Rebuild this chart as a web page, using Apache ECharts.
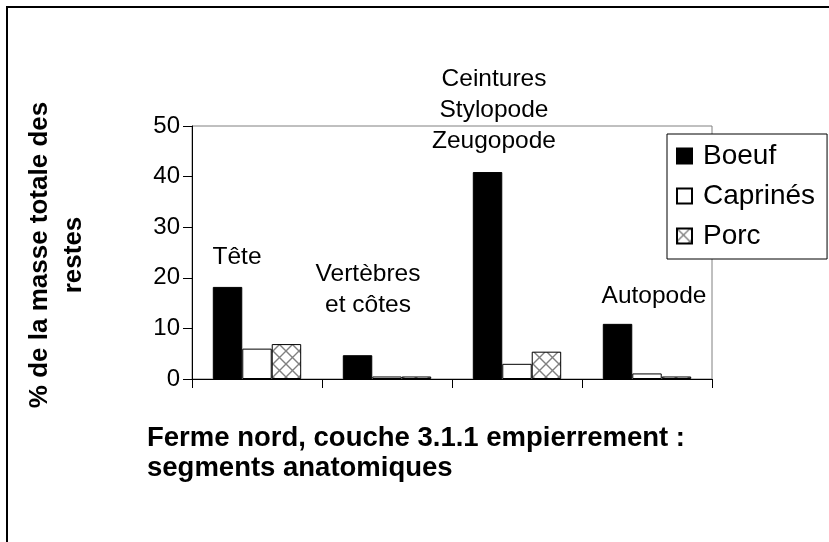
<!DOCTYPE html>
<html>
<head>
<meta charset="utf-8">
<script src="https://cdn.jsdelivr.net/npm/echarts@6/dist/echarts.min.js"></script>
<style>
  html, body { margin: 0; padding: 0; background: #fff; }
  #chart { width: 829px; height: 542px; }
</style>
</head>
<body>
<div id="chart"></div>
<script>
// Segments anatomiques (catégories) et masses en % par espèce
const segments = ['Tête', 'Vertèbres\net côtes', 'Ceintures\nStylopode\nZeugopode', 'Autopode'];
const especes = ['Boeuf', 'Caprinés', 'Porc'];
const boeuf = [18.2, 4.7, 40.9, 10.9];
const caprines = [6.0, 0.5, 3.0, 1.1];
const porc = [6.9, 0.5, 5.4, 0.5];
const yTicks = [0, 10, 20, 30, 40, 50];

const FONT = "Arial, 'Liberation Sans', sans-serif";

// Hachure croisée pour la série Porc
function crossHatch() {
  const c = document.createElement('canvas');
  c.width = 13; c.height = 13;
  const g = c.getContext('2d');
  g.fillStyle = '#fff';
  g.fillRect(0, 0, 13, 13);
  g.strokeStyle = '#808080';
  g.lineWidth = 1.4;
  g.beginPath();
  g.moveTo(0, 0); g.lineTo(13, 13);
  g.moveTo(13, 0); g.lineTo(0, 13);
  g.stroke();
  return c;
}

const chart = echarts.init(document.getElementById('chart'), null, { renderer: 'canvas' });

const option = {
  backgroundColor: '#fff',
  animation: false,
  textStyle: { fontFamily: FONT },
  grid: {
    left: 192, top: 126, right: 117, bottom: 163,
    show: true, borderColor: '#808080', borderWidth: 1, backgroundColor: 'transparent'
  },
  legend: {
    orient: 'vertical',
    left: 667, top: 134,
    data: especes,
    selectedMode: false,
    icon: 'rect',
    itemWidth: 15, itemHeight: 15,
    itemGap: 12,
    padding: [8, 12, 9, 9],
    borderColor: '#000', borderWidth: 1,
    backgroundColor: '#fff',
    textStyle: { fontSize: 28, color: '#000', fontFamily: FONT, padding: [0, 0, 0, 6] }
  },
  xAxis: {
    type: 'category',
    data: segments,
    axisLine: { lineStyle: { color: '#000', width: 1 } },
    axisTick: { show: true, length: 9, lineStyle: { color: '#000' } },
    axisLabel: { show: false }
  },
  yAxis: {
    type: 'value',
    min: yTicks[0], max: yTicks[yTicks.length - 1], interval: 10,
    axisLine: { show: true, lineStyle: { color: '#000', width: 1 } },
    axisTick: { show: true, length: 9, lineStyle: { color: '#000' } },
    axisLabel: { color: '#000', fontSize: 24, margin: 12, fontFamily: FONT },
    splitLine: { show: false }
  },
  series: [
    {
      name: especes[0], type: 'bar', data: boeuf,
      barGap: '0%', barCategoryGap: '32%',
      itemStyle: { color: '#000', borderColor: '#000', borderWidth: 1 }
    },
    {
      name: especes[1], type: 'bar', data: caprines,
      itemStyle: { color: '#fff', borderColor: '#000', borderWidth: 1 }
    },
    {
      name: especes[2], type: 'bar', data: porc,
      itemStyle: { color: { image: crossHatch(), repeat: 'repeat' }, borderColor: '#000', borderWidth: 1 }
    }
  ]
};

chart.setOption(option);

// Étiquettes des segments placées au-dessus des groupes de barres
// [décalage horizontal en px depuis le centre de la catégorie, valeur y du centre du texte]
const labelPlacement = [[-20, 24.0], [-19, 17.6], [-23, 53.1], [7, 16.3]];
const graphics = segments.map((name, i) => {
  const p = chart.convertToPixel({ gridIndex: 0 }, [i, labelPlacement[i][1]]);
  return {
    type: 'text',
    x: p[0] + labelPlacement[i][0], y: p[1],
    style: {
      text: name, fill: '#000', font: '24.5px ' + FONT,
      textAlign: 'center', textVerticalAlign: 'middle', lineHeight: 31
    }
  };
});

// Titre de l'axe vertical
graphics.push({
  type: 'text', x: 57, y: 255, rotation: Math.PI / 2,
  style: {
    text: '% de la masse totale des\nrestes', fill: '#000',
    font: 'bold 26px ' + FONT, textAlign: 'center', textVerticalAlign: 'middle', lineHeight: 34
  }
});

// Titre du graphique, sous l'axe horizontal
graphics.push({
  type: 'text', x: 147, y: 453,
  style: {
    text: 'Ferme nord, couche 3.1.1 empierrement :\nsegments anatomiques', fill: '#000',
    font: 'bold 27.5px ' + FONT, textAlign: 'left', textVerticalAlign: 'middle', lineHeight: 30
  }
});

// Cadre extérieur de la zone du graphique
graphics.push({
  type: 'rect', shape: { x: 7, y: 7, width: 900, height: 700 },
  style: { fill: 'none', stroke: '#000', lineWidth: 2 }, silent: true
});

chart.setOption({ graphic: graphics });
</script>
</body>
</html>
